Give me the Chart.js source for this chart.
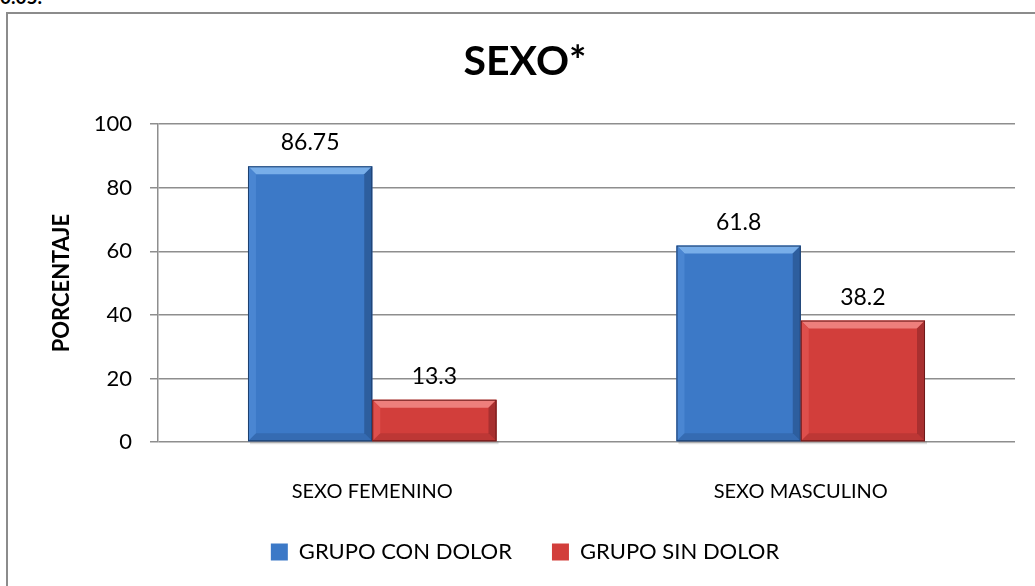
<!DOCTYPE html>
<html>
<head>
<meta charset="utf-8">
<script src="https://cdn.jsdelivr.net/npm/chart.js@4"></script>
<style>
  body { margin: 0; background: #fff; overflow: hidden; }
  #frame { position: absolute; left: 6px; top: 12px; width: 1040px; height: 600px; border: 2px solid #8c8c8c; box-sizing: border-box; }
  #note { position: absolute; left: 0; top: -15px; font: bold 19px Lato, sans-serif; color: #000; }
  #wrap { position: absolute; left: 0; top: 0; width: 1035px; height: 586px; }
</style>
</head>
<body>
<div id="note">0.05.</div>
<div id="frame"></div>
<div id="wrap"><canvas id="sexChart"></canvas></div>
<script>
// Datos del gráfico
var categorias = ['SEXO FEMENINO', 'SEXO MASCULINO'];
var grupoConDolor = [86.75, 61.8];
var grupoSinDolor = [13.3, 38.2];
var etiquetasConDolor = ['86.75', '61.8'];
var etiquetasSinDolor = ['13.3', '38.2'];

var FONT = 'Lato, "Open Sans", sans-serif';

// Relieve de las barras (bisel superior y bordes)
var bevelPlugin = {
    id: 'bevel',
    afterDatasetsDraw: function (chart) {
        var ctx = chart.ctx;
        var tonos = [
            { top: '#78aee9', left: '#4a86d2', right: '#2d5e9e', line: '#1d3f6e' },
            { top: '#ee7f7c', left: '#de4f4c', right: '#a83030', line: '#6e1a1a' }
        ];
        chart.data.datasets.forEach(function (ds, i) {
            var meta = chart.getDatasetMeta(i);
            var t = tonos[i];
            meta.data.forEach(function (bar) {
                var x0 = bar.x - bar.width / 2, x1 = bar.x + bar.width / 2;
                var y0 = bar.y, y1 = bar.base;
                var b = Math.min(8, (y1 - y0) / 3);
                ctx.save();
                // sombra inferior
                ctx.fillStyle = 'rgba(0,0,0,0.12)';
                ctx.fillRect(x0 + 2, y1, bar.width, 3);
                ctx.fillStyle = t.top;
                ctx.beginPath();
                ctx.moveTo(x0, y0); ctx.lineTo(x1, y0); ctx.lineTo(x1 - b, y0 + b); ctx.lineTo(x0 + b, y0 + b);
                ctx.closePath(); ctx.fill();
                ctx.fillStyle = t.left;
                ctx.beginPath();
                ctx.moveTo(x0, y0); ctx.lineTo(x0 + b, y0 + b); ctx.lineTo(x0 + b, y1 - b); ctx.lineTo(x0, y1);
                ctx.closePath(); ctx.fill();
                ctx.fillStyle = t.right;
                ctx.beginPath();
                ctx.moveTo(x1, y0); ctx.lineTo(x1 - b, y0 + b); ctx.lineTo(x1 - b, y1 - b); ctx.lineTo(x1, y1);
                ctx.closePath(); ctx.fill();
                ctx.globalAlpha = 0.5;
                ctx.beginPath();
                ctx.moveTo(x0, y1); ctx.lineTo(x0 + b, y1 - b); ctx.lineTo(x1 - b, y1 - b); ctx.lineTo(x1, y1);
                ctx.closePath(); ctx.fill();
                ctx.globalAlpha = 1;
                ctx.strokeStyle = t.line;
                ctx.lineWidth = 1;
                ctx.strokeRect(x0 + 0.5, y0 + 0.5, bar.width - 1, y1 - y0 - 1);
                ctx.restore();
            });
        });
    }
};

// Etiquetas de valores sobre las barras
var valueLabels = {
    id: 'valueLabels',
    afterDatasetsDraw: function (chart) {
        var ctx = chart.ctx;
        var textos = [etiquetasConDolor, etiquetasSinDolor];
        ctx.save();
        ctx.font = '23px ' + FONT;
        ctx.fillStyle = '#000';
        ctx.textAlign = 'center';
        ctx.textBaseline = 'bottom';
        chart.data.datasets.forEach(function (ds, i) {
            chart.getDatasetMeta(i).data.forEach(function (bar, j) {
                ctx.fillText(textos[i][j], bar.x, bar.y - 12);
            });
        });
        ctx.restore();
    }
};

var ctx = document.getElementById('sexChart').getContext('2d');

var myChart = new Chart(ctx, {
    type: 'bar',
    data: {
        labels: categorias,
        datasets: [{
            label: 'GRUPO CON DOLOR',
            data: grupoConDolor,
            backgroundColor: '#3c79c7',
            borderWidth: 0
        }, {
            label: 'GRUPO SIN DOLOR',
            data: grupoSinDolor,
            backgroundColor: '#d23e3b',
            borderWidth: 0
        }]
    },
    options: {
        responsive: true,
        maintainAspectRatio: false,
        animation: false,
        events: [],
        layout: { padding: { left: 35, right: 20, top: 0, bottom: 13 } },
        datasets: {
            bar: { categoryPercentage: 0.58, barPercentage: 1 }
        },
        scales: {
            x: {
                grid: { display: false },
                border: { display: false },
                ticks: { color: '#000', font: { family: FONT, size: 20 }, padding: 30 },
                afterFit: function (scale) { scale.height = 59; }
            },
            y: {
                min: 0,
                max: 100,
                ticks: { stepSize: 20, color: '#000', font: { family: FONT, size: 22 }, padding: 18 },
                grid: { color: '#8e8e8e', lineWidth: 1.5, tickLength: 8 },
                border: { color: '#8e8e8e', width: 1.5 },
                title: {
                    display: true,
                    text: 'PORCENTAJE',
                    color: '#000',
                    font: { family: FONT, size: 22, weight: 'bold' },
                    padding: { top: 14, bottom: 10 }
                },
                afterFit: function (scale) { scale.width = 123; }
            }
        },
        plugins: {
            title: {
                display: true,
                text: 'SEXO*',
                color: '#000',
                font: { family: FONT, size: 41, weight: 'bold' },
                padding: { top: 37, bottom: 38 }
            },
            legend: {
                position: 'bottom',
                labels: {
                    color: '#000',
                    font: { family: FONT, size: 22 },
                    boxWidth: 17,
                    boxHeight: 17,
                    padding: 40,
                    useBorderRadius: false
                }
            },
            tooltip: { enabled: false }
        }
    },
    plugins: [bevelPlugin, valueLabels]
});
</script>
</body>
</html>
